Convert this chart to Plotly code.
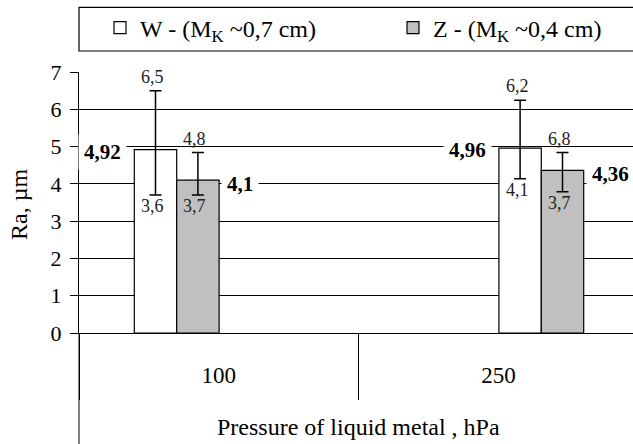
import plotly.graph_objects as go

# ---------------- data ----------------
categories = ["100", "250"]
w_values = [4.92, 4.96]
z_values = [4.10, 4.36]
w_err_high = [6.5, 6.24]
w_err_low = [3.7, 4.14]
z_err_high = [4.84, 4.84]
z_err_low = [3.7, 3.79]
w_high_labels = ["6,5", "6,2"]
w_low_labels = ["3,6", "4,1"]
z_high_labels = ["4,8", "6,8"]
z_low_labels = ["3,7", "3,7"]
y_ticks = [0, 1, 2, 3, 4, 5, 6, 7]
w_name = "W - (M<sub>K</sub> ~0,7 cm)"
z_name = "Z - (M<sub>K</sub> ~0,4 cm)"
y_title = "Ra, µm"
x_title = "Pressure of liquid metal , hPa"

# ---------------- layout constants ----------------
FW, FH = 633, 444
ML, MR, MT, MB = 79, 0, 72, 111
PW = FW - ML - MR
PH = FH - MT - MB
FONT = "Liberation Serif, Times New Roman, serif"
TICK = 22
TITLE = 24
LEG = 24
CAT = 23
BOLD = 21
SMALL = 18
GRAY = "#C0C0C0"

unit = 364.6                      # px per category on bar axis
bar_w = 42.4 / unit               # one bar width in category units
x_range = [(ML - 176.7) / unit, (FW - 176.7) / unit]
cat_w2 = 279.6
x2_range = [-0.5, -0.5 + PW / cat_w2]


def fmt(v):
    return f"{v:g}".replace(".", ",")


def px_x(p):
    return (p - ML) / PW


def px_y(p):
    return (MT + PH - p) / PH


fig = go.Figure()
fig.add_trace(go.Bar(
    x=categories, y=w_values, name=w_name, legend="legend",
    marker=dict(color="white", line=dict(color="black", width=1.2)),
    error_y=dict(type="data", symmetric=False,
                 array=[h - v for h, v in zip(w_err_high, w_values)],
                 arrayminus=[v - l for l, v in zip(w_err_low, w_values)],
                 color="black", thickness=1.5, width=6),
    hoverinfo="skip",
))
fig.add_trace(go.Bar(
    x=categories, y=z_values, name=z_name, legend="legend2",
    marker=dict(color=GRAY, line=dict(color="black", width=1.2)),
    error_y=dict(type="data", symmetric=False,
                 array=[h - v for h, v in zip(z_err_high, z_values)],
                 arrayminus=[v - l for l, v in zip(z_err_low, z_values)],
                 color="black", thickness=1.5, width=6),
    hoverinfo="skip",
))
# invisible trace to register categories on the label axis
fig.add_trace(go.Scatter(
    x=categories, y=[0, 0], xaxis="x2", mode="markers",
    marker=dict(opacity=0), showlegend=False, hoverinfo="skip",
))

annotations = []
off = bar_w / 2
for i, cat in enumerate(categories):
    xw = i - off
    xz = i + off
    for xx, hi, lo, hl, ll in [(xw, w_err_high[i], w_err_low[i], w_high_labels[i], w_low_labels[i]),
                               (xz, z_err_high[i], z_err_low[i], z_high_labels[i], z_low_labels[i])]:
        annotations.append(dict(x=xx, y=hi, xref="x", yref="y", text=hl, showarrow=False,
                                xanchor="center", yanchor="middle", xshift=-3, yshift=14,
                                font=dict(family=FONT, size=SMALL, color="#222")))
        annotations.append(dict(x=xx, y=lo, xref="x", yref="y", text=ll, showarrow=False,
                                xanchor="center", yanchor="middle", xshift=-3, yshift=-11,
                                font=dict(family=FONT, size=SMALL, color="#222")))
    annotations.append(dict(x=i - bar_w, y=w_values[i], xref="x", yref="y",
                            text="<b>" + fmt(w_values[i]) + "</b>", showarrow=False,
                            xanchor="right", yanchor="middle", xshift=-7, yshift=-2,
                            bgcolor="white", borderpad=5,
                            font=dict(family=FONT, size=BOLD, color="black")))
    annotations.append(dict(x=i + bar_w, y=z_values[i], xref="x", yref="y",
                            text="<b>" + fmt(z_values[i]) + "</b>", showarrow=False,
                            xanchor="left", yanchor="middle", xshift=2, yshift=-4,
                            bgcolor="white", borderpad=5,
                            font=dict(family=FONT, size=BOLD, color="black")))

annotations.append(dict(x=px_x(19), y=px_y(205), xref="paper", yref="paper", text=y_title,
                        textangle=-90, showarrow=False, xanchor="center", yanchor="middle",
                        font=dict(family=FONT, size=TITLE, color="black")))
annotations.append(dict(x=px_x(358), y=px_y(427), xref="paper", yref="paper",
                        text=x_title, showarrow=False, xanchor="center", yanchor="middle",
                        font=dict(family=FONT, size=TITLE, color="black")))

shapes = [
    dict(type="rect", xref="paper", yref="paper",
         x0=0, x1=1.05, y0=px_y(51), y1=px_y(7.3),
         line=dict(color="black", width=1.2), fillcolor="rgba(0,0,0,0)", layer="above"),
    dict(type="line", xref="paper", yref="paper", x0=0, x1=0, y0=0, y1=px_y(FH),
         line=dict(color="black", width=1)),
]

legend_common = dict(orientation="h", xanchor="left", yanchor="middle",
                     bgcolor="rgba(0,0,0,0)", borderwidth=0,
                     font=dict(family=FONT, size=LEG, color="black"))

fig.update_layout(
    width=FW, height=FH,
    margin=dict(l=ML, r=MR, t=MT, b=MB, pad=0, autoexpand=False),
    paper_bgcolor="white", plot_bgcolor="white",
    barmode="group", bargap=1 - 2 * bar_w, bargroupgap=0,
    font=dict(family=FONT, size=TICK, color="black"),
    showlegend=True,
    legend=dict(x=px_x(100), y=px_y(28), **legend_common),
    legend2=dict(x=px_x(393), y=px_y(28), **legend_common),
    xaxis=dict(type="category", categoryorder="array", categoryarray=categories,
               range=x_range, showticklabels=False, ticks="", showgrid=False,
               showline=True, linecolor="black", linewidth=1, zeroline=False, fixedrange=True),
    xaxis2=dict(type="category", categoryorder="array", categoryarray=categories,
                overlaying="x", anchor="y", side="bottom", range=x2_range,
                tickson="boundaries", ticks="outside", ticklen=66, tickcolor="black", tickwidth=1,
                showgrid=False, showline=False, zeroline=False, ticklabelstandoff=26,
                tickfont=dict(family=FONT, size=CAT, color="black")),
    yaxis=dict(range=[0, 7], tickvals=y_ticks, showgrid=True, gridcolor="black", gridwidth=1,
               showline=True, linecolor="black", linewidth=1, zeroline=False,
               ticks="outside", ticklen=8, tickcolor="black", ticklabelstandoff=4,
               tickfont=dict(family=FONT, size=TICK, color="black")),
    annotations=annotations,
    shapes=shapes,
)

fig.write_html("out.html")
